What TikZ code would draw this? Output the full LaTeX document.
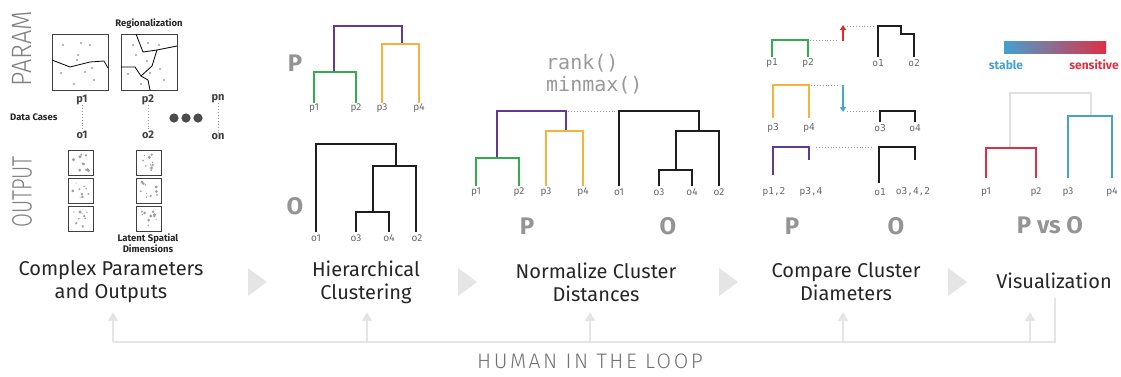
\documentclass[tikz,border=0pt]{standalone}
\usepackage{fontspec}
\setmainfont{Fira Sans}
\setmonofont{DejaVu Sans Mono}
\newfontfamily\lightfont{Fira Sans Light}
\usepackage{tikz}
\usetikzlibrary{arrows.meta, positioning}

\definecolor{dpurple}{RGB}{98,58,148}
\definecolor{dgreen}{RGB}{52,172,78}
\definecolor{dorange}{RGB}{242,180,58}
\definecolor{dblack}{RGB}{30,30,30}
\definecolor{upred}{RGB}{228,40,40}
\definecolor{downblue}{RGB}{62,170,215}
\definecolor{senred}{RGB}{222,48,68}
\definecolor{stablue}{RGB}{70,160,208}

% one output thumbnail: corner x, corner y, seed
\newcommand\thumb[3]{%
  \pgfmathsetseed{#3}
  \draw[pane] (#1,#2) rectangle ++(25,25);
  \foreach \k in {1,...,10}{
    \pgfmathsetmacro\dx{#1+4+17*rnd}
    \pgfmathsetmacro\dy{#2+4+17*rnd}
    \pgfmathsetmacro\dr{0.5+1.3*rnd}
    \fill[black!38] (\dx,\dy) circle[radius=\dr];
  }
}

\begin{document}
\begin{tikzpicture}[x=1pt, y=-1pt,
  every node/.style = {inner sep=0pt},
  title/.style = {font=\fontsize{20}{23}\selectfont, align=center, text=black!85},
  big/.style   = {font=\fontsize{24}{24}\selectfont\bfseries, text=black!42},
  leaf/.style  = {font=\fontsize{10}{10}\selectfont, text=black!60},
  mleaf/.style = {font=\fontsize{9.5}{10}\ttfamily, text=black!60},
  plab/.style  = {font=\fontsize{11}{11}\selectfont\bfseries, text=black!75},
  tiny/.style  = {font=\fontsize{9.5}{11}\selectfont\bfseries, text=black!85, align=center},
  side/.style  = {font=\fontsize{28}{28}\lightfont, text=black!50, rotate=90},
  den/.style   = {line width=1.6pt},
  tie/.style   = {dotted, line width=0.9pt, black!40},
  chev/.style  = {fill=black!10, draw=none},
  hloop/.style = {line width=2.2pt, black!10},
  up/.style    = {hloop, -{Triangle[width=10pt,length=9pt]}},
  pane/.style  = {draw=black!75, line width=0.8pt},
  trend/.style = {line width=1.5pt, -{Triangle[width=6pt,length=5pt]}}
]
\useasboundingbox (0,0) rectangle (1121,376);

%% ── PANEL 1: parameters and outputs ─────────────────────────────
\node[side] (param)  at (22,49)  {\scalebox{0.9}[1]{PARAM}};
\node[side] (output) at (22,192) {\scalebox{0.72}[1]{OUTPUT}};

\node[tiny] (reg) at (149,24) {Regionalization};
\node[pane, minimum size=56pt] (map1) at (80,62)  {};
\node[pane, minimum size=56pt] (map2) at (149,62) {};
\foreach \p in {(63,45),(81,43),(90,45),(78,55),(77,60),(61,73),(85,72),(92,68),(94,80),(74,84)}
  \fill[black!38] \p circle[radius=1.1];
\foreach \p in {(133,45),(148,43),(159,45),(136,55),(147,61),(160,69),(164,80),(150,73),(128,74),(141,84)}
  \fill[black!38] \p circle[radius=1.1];
\draw[thick] (52,60) -- (70,67) -- (90,62) -- (104,61) -- (108,68);
\draw[thick] (136,34) -- (143,52) -- (157,50) -- (177,46);
\draw[thick] (157,50) -- (152,66) -- (141,76);
\draw[thick] (121,67) -- (135,67) -- (141,76) -- (148,80) -- (150,90);

\node[tiny, anchor=west] (cases) at (10,117) {Data Cases};
\node[plab] (p1) at (82,100)  {p1};
\node[plab] (o1) at (82,135)  {o1};
\node[plab] (p2) at (148,100) {p2};
\node[plab] (o2) at (148,135) {o2};
\node[plab] (pn) at (218,99)  {pn};
\node[plab] (on) at (218,137) {on};
\draw[tie] (p1) -- (o1);
\draw[tie] (p2) -- (o2);
\draw[tie] (pn) -- (on);
\foreach \x in {174,186,198}
  \fill[black!70] (\x,118) circle[radius=4.6];

\thumb{68}{150}{3}   \thumb{68}{178}{5}   \thumb{68}{206}{7}
\thumb{136}{150}{11} \thumb{136}{178}{13} \thumb{136}{206}{17}
\node[tiny] (latent) at (148,243) {Latent Spatial\\Dimensions};

%% ── PANEL 2: hierarchical clustering ────────────────────────────
\node[big] (hP) at (295,63)  {P};
\node[big] (hO) at (295,206) {O};
\draw[den, dpurple] (334,72) -- (334,26) -- (402,26) -- (402,44);
\draw[den, dgreen]  (314,103) -- (314,72) -- (356,72) -- (356,103);
\draw[den, dorange] (382,103) -- (382,44) -- (419,44) -- (419,103);
\draw[den, dblack]  (316,232) -- (316,144) -- (396,144) -- (396,166);
\draw[den, dblack]  (373,212) -- (373,166) -- (416,166) -- (416,232);
\draw[den, dblack]  (356,232) -- (356,212) -- (389,212) -- (389,232);
\foreach \n/\x in {p1/314,p2/356,p3/382,p4/419}
  \node[leaf] (h\n) at (\x,108) {\n};
\foreach \n/\x in {o1/316,o3/356,o4/389,o2/417}
  \node[leaf] (h\n) at (\x,238) {\n};

%% ── PANEL 3: normalised distances ───────────────────────────────
\node[anchor=west, font=\fontsize{20}{22}\ttfamily, text=black!40, align=left] (norm) at (546,74) {rank()\\minmax()};
\draw[den, dpurple] (497,158) -- (497,111) -- (566,111) -- (566,131);
\draw[den, dgreen]  (476,186) -- (476,158) -- (519,158) -- (519,186);
\draw[den, dorange] (546,186) -- (546,131) -- (583,131) -- (583,186);
\draw[den, dblack]  (619,186) -- (619,111) -- (699,111) -- (699,131);
\draw[den, dblack]  (676,170) -- (676,131) -- (719,131) -- (719,186);
\draw[den, dblack]  (659,186) -- (659,170) -- (692,170) -- (692,186);
\coordinate (nPtop) at (568,111);
\coordinate (nOtop) at (617,111);
\draw[tie] (nPtop) -- (nOtop);
\foreach \n/\x in {p1/476,p2/519,p3/546,p4/583,o1/619,o3/659,o4/692,o2/719}
  \node[leaf] (n\n) at (\x,192) {\n};
\node[big] (nP) at (527,226) {P};
\node[big] (nO) at (668,226) {O};

%% ── PANEL 4: cluster diameters ──────────────────────────────────
% p1,p2 against o1,o2
\draw[den, dgreen] (772,57) -- (772,40) -- (808,40) -- (808,57);
\draw[den, dblack] (878,57) -- (878,26) -- (901,26) -- (901,34) -- (914,34) -- (914,57);
\coordinate (c1a) at (810,40);
\coordinate (c1b) at (838,40);
\coordinate (c1c) at (847,26);
\coordinate (c1d) at (876,26);
\draw[tie] (c1a) -- (c1b);
\draw[tie] (c1c) -- (c1d);
\draw[trend, upred] (843,41) -- (843,25);
% p3,p4 against o3,o4
\draw[den, dorange] (773,118) -- (773,85) -- (809,85) -- (809,118);
\draw[den, dblack]  (880,122) -- (880,111) -- (915,111) -- (915,122);
\coordinate (c2a) at (811,85);
\coordinate (c2b) at (838,85);
\coordinate (c2c) at (847,111);
\coordinate (c2d) at (878,111);
\draw[tie] (c2a) -- (c2b);
\draw[tie] (c2c) -- (c2d);
\draw[trend, downblue] (843,85) -- (843,112);
% merged pairs
\draw[den, dpurple] (773,175) -- (773,147) -- (809,147) -- (809,160);
\draw[den, dblack]  (879,183) -- (879,147) -- (915,147) -- (915,160);
\coordinate (c3a) at (816,147);
\coordinate (c3b) at (873,147);
\draw[tie] (c3a) -- (c3b);
\node[mleaf] (cp1) at (772,63)  {p1};
\node[mleaf] (cp2) at (808,63)  {p2};
\node[mleaf] (co1) at (878,63)  {o1};
\node[mleaf] (co2) at (914,63)  {o2};
\node[mleaf] (cp3) at (773,128) {p3};
\node[mleaf] (cp4) at (809,128) {p4};
\node[mleaf] (co3) at (880,128) {o3};
\node[mleaf] (co4) at (915,128) {o4};
\node[mleaf] (cp12)  at (774,192) {p1,2};
\node[mleaf] (cp34)  at (811,192) {p3,4};
\node[mleaf] (co1b)  at (880,192) {o1};
\node[mleaf] (co342) at (913,192) {o3,4,2};
\node[big] (cP) at (792,226) {P};
\node[big] (cO) at (896,226) {O};

%% ── PANEL 5: visualization ──────────────────────────────────────
\shade[left color=stablue, middle color=black!12, right color=senred] (1004,41) rectangle (1106,53);
\node[font=\fontsize{12}{12}\selectfont\bfseries, text=stablue] (stable) at (1006,65) {stable};
\node[font=\fontsize{12}{12}\selectfont\bfseries, text=senred]  (sens)   at (1094,65) {sensitive};
\draw[den, black!12] (1010,147) -- (1010,93) -- (1091,93) -- (1091,116);
\draw[den, senred]  (986,178) -- (986,148) -- (1036,148) -- (1036,178);
\draw[den, stablue] (1068,178) -- (1068,116) -- (1112,116) -- (1112,178);
\foreach \n/\x in {p1/986,p2/1036,p3/1068,p4/1112}
  \node[leaf] (v\n) at (\x,192) {\n};
\node[big] (vPO) at (1050,225) {P vs O};

%% ── TITLES AND STEP MARKERS ─────────────────────────────────────
\node[title] (t1) at (111,282)  {Complex Parameters\\and Outputs};
\node[title] (t2) at (366,282)  {Hierarchical\\Clustering};
\node[title] (t3) at (596,282)  {Normalize Cluster\\Distances};
\node[title] (t4) at (846,282)  {Compare Cluster\\Diameters};
\node[title] (t5) at (1054,281) {Visualization};
\foreach \x in {248,458,719,948}
  \fill[chev] (\x,268) -- (\x+19,282) -- (\x,296) -- cycle;

%% ── HUMAN IN THE LOOP ───────────────────────────────────────────
\foreach \i/\x in {1/113,2/367,3/590,4/843,5/1030}
  \coordinate (h\i) at (\x,342);
\coordinate (hend) at (1055,342);
\coordinate (hcap) at (1055,298);
\draw[hloop] (h1) -- (hend) -- (hcap);
\foreach \i in {1,...,5}
  \draw[up] (h\i) -- ++(0,-30);
\node[font=\fontsize{21}{21}\lightfont\addfontfeatures{LetterSpace=12}, text=black!55] (human) at (590,361) {HUMAN IN THE LOOP};

\end{tikzpicture}
\end{document}
